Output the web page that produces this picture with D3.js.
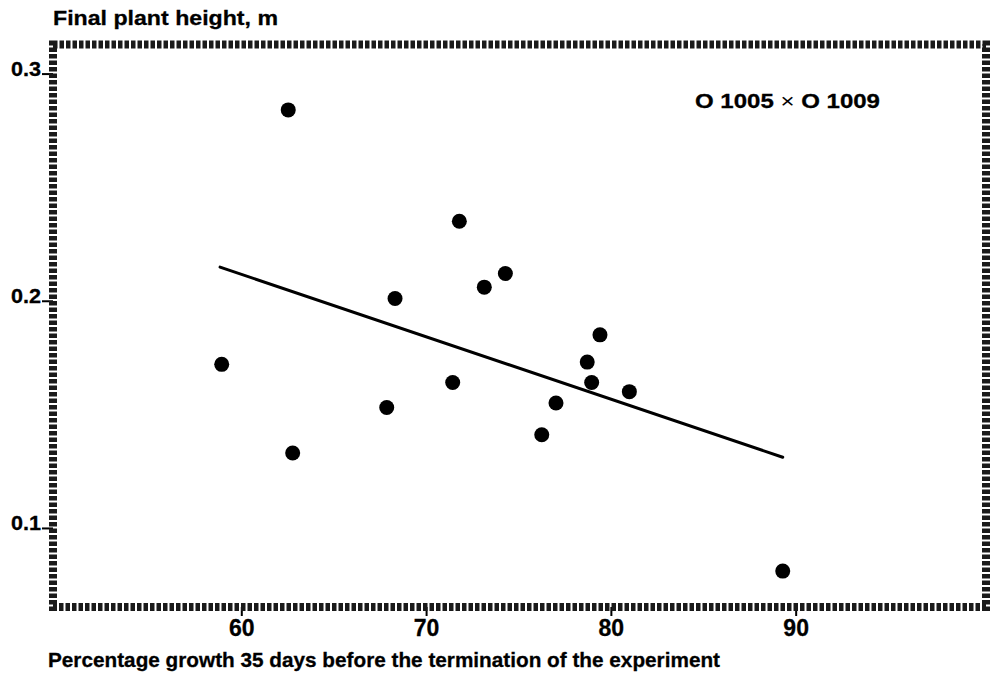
<!DOCTYPE html>
<html>
<head>
<meta charset="utf-8">
<script src="https://cdn.jsdelivr.net/npm/d3@7"></script>
<style>
  html, body { margin: 0; padding: 0; background: #fff; }
  svg { display: block; font-family: "Liberation Sans", Arial, Helvetica, sans-serif; font-weight: bold; }
  text { fill: #000; }
</style>
</head>
<body>
<svg id="chart" width="999" height="679"></svg>
<script>
// ---- data ----
const growthPct   = [58.94, 62.54, 62.78, 67.87, 68.32, 71.44, 71.80, 73.15, 74.29, 76.26, 77.03, 78.72, 78.96, 79.41, 81.00, 89.30];
const plantHeight = [0.172, 0.284, 0.133, 0.153, 0.201, 0.164, 0.235, 0.206, 0.212, 0.141, 0.155, 0.173, 0.164, 0.185, 0.160, 0.081];
const fitX = [58.85, 89.30];
const fitY = [0.2148, 0.1311];
const xTicks = [60, 70, 80, 90];
const yTicks = [0.1, 0.2, 0.3];
const xDomain = [49.81, 100.3];
const yDomain = [0.0652, 0.3128];
const yTitle = "Final plant height, m";
const xTitle = "Percentage growth 35 days before the termination of the experiment";
const legendParts = ["O 1005 ", "\u00D7", " O 1009"];

// ---- layout ----
const mLeft = 53, mRight = 986, mTop = 44.5, mBottom = 607;
const svg = d3.select("#chart");
const FONT = "'Liberation Sans', Arial, sans-serif";

const x = d3.scaleLinear().domain(xDomain).range([mLeft, mRight]);
const y = d3.scaleLinear().domain(yDomain).range([mBottom, mTop]);

// regression line
svg.append("line")
  .attr("x1", x(fitX[0])).attr("y1", y(fitY[0]))
  .attr("x2", x(fitX[1])).attr("y2", y(fitY[1]))
  .attr("stroke", "#000").attr("stroke-width", 3).attr("stroke-linecap", "round");

// points
svg.append("g").selectAll("circle")
  .data(growthPct.map((g, i) => [g, plantHeight[i]]))
  .join("circle")
  .attr("cx", d => x(d[0])).attr("cy", d => y(d[1]))
  .attr("r", 7.5).attr("fill", "#000");

// axes
const yAxis = svg.append("g").attr("transform", `translate(${mLeft},0)`)
  .call(d3.axisLeft(y).tickValues(yTicks).tickFormat(d3.format(".1f")).tickSize(11).tickPadding(1));
yAxis.select(".domain").remove();
yAxis.selectAll(".tick line").attr("stroke", "#000").attr("stroke-width", 2);
yAxis.selectAll(".tick text")
  .attr("font-size", 20).attr("font-family", FONT).attr("font-weight", "bold")
  .attr("fill", "#000").attr("stroke", "#000").attr("stroke-width", 0.3)
  .attr("dy", "0.1em").attr("textLength", 30).attr("lengthAdjust", "spacingAndGlyphs");

const xAxis = svg.append("g").attr("transform", `translate(0,${mBottom})`)
  .call(d3.axisBottom(x).tickValues(xTicks).tickSize(9).tickPadding(4));
xAxis.select(".domain").remove();
xAxis.selectAll(".tick line").attr("stroke", "#000").attr("stroke-width", 2);
xAxis.selectAll(".tick text")
  .attr("font-size", 23).attr("font-family", FONT).attr("font-weight", "bold")
  .attr("fill", "#000").attr("stroke", "#000").attr("stroke-width", 0.3);

// textured frame
svg.append("rect")
  .attr("x", mLeft).attr("y", mTop)
  .attr("width", mRight - mLeft).attr("height", mBottom - mTop)
  .attr("fill", "none").attr("stroke", "#1a1a1a").attr("stroke-width", 8)
  .attr("stroke-dasharray", "4.5,2");

// titles
svg.append("text").attr("x", 53).attr("y", 25)
  .attr("font-size", 21).attr("stroke", "#000").attr("stroke-width", 0.3)
  .attr("textLength", 225).attr("lengthAdjust", "spacingAndGlyphs")
  .text(yTitle);
svg.append("text").attr("x", 48).attr("y", 667)
  .attr("font-size", 21).attr("stroke", "#000").attr("stroke-width", 0.3)
  .attr("textLength", 672).attr("lengthAdjust", "spacingAndGlyphs")
  .text(xTitle);
const leg = svg.append("text").attr("x", 695).attr("y", 108)
  .attr("font-size", 21).attr("stroke", "#000").attr("stroke-width", 0.3)
  .attr("textLength", 185).attr("lengthAdjust", "spacingAndGlyphs");
leg.append("tspan").text(legendParts[0]);
leg.append("tspan").attr("font-weight", "normal").attr("stroke-width", 0).text(legendParts[1]);
leg.append("tspan").text(legendParts[2]);
</script>
</body>
</html>
